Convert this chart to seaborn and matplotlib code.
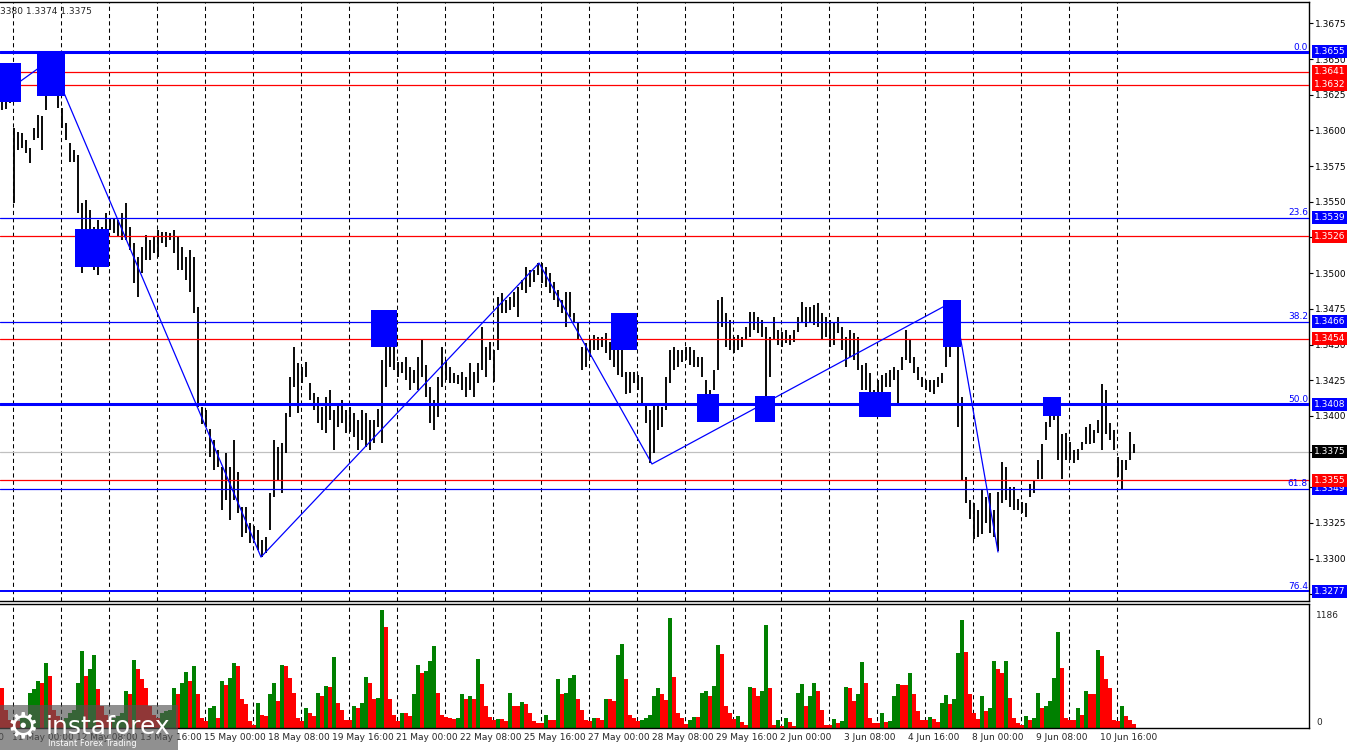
import matplotlib
matplotlib.use("Agg")
import matplotlib.pyplot as plt
import matplotlib.transforms as mtransforms
from matplotlib.patches import Rectangle
import numpy as np
import seaborn as sns

# price = BASE + pts / 10000, one bar every 4 px of the original screen
BASE = 1.3

high_pts = [630, 629, 634, 602, 599, 598, 593, 588, 602, 611, 610, 640, 649, 644, 626, 616, 605, 591, 586, 583,
            549, 551, 544, 532, 537, 532, 542, 539, 539, 537, 542, 549, 532, 521, 511, 518, 527, 523, 525, 530,
            529, 529, 528, 530, 525, 518, 511,
            516, 511, 476, 406, 404, 391, 383, 376, 364, 374, 364, 383, 361, 336, 336, 325, 323, 320, 313, 315,
            346, 383, 378, 381, 402, 427, 448, 437, 434, 438, 423, 416, 413, 406, 413, 418, 404, 409, 411, 404,
            406, 402, 397, 404, 402, 397, 397, 405, 439, 462, 453, 451, 438, 438, 441, 434, 432, 441, 453, 436,
            420, 411, 427, 448, 439, 434, 430, 429, 431, 427, 437, 431, 437, 462, 448, 452, 446, 483, 486, 481,
            483, 487, 490, 495, 504, 502, 502, 507, 507, 504, 500, 494, 488, 481, 487, 487, 472, 466, 448, 451,
            453, 457, 455, 455, 458, 452, 451, 446, 455, 431, 431, 431, 429, 427, 408, 404, 408, 409, 406, 427,
            446, 448, 446, 446, 448, 448, 446, 441, 441, 425, 418, 432, 481, 483, 472, 467, 455, 457, 455, 462,
            473, 473, 469, 467, 462, 455, 469, 460, 459, 460, 457, 460, 469, 480, 476, 476, 478, 479,
            472, 469, 467, 466, 469, 462, 455, 460, 458, 455, 436, 437, 430, 418, 425, 429, 430, 432, 434, 432,
            441, 460, 453, 441, 434, 427, 425, 425, 425, 427, 430, 448, 467, 480, 465, 413, 357, 341, 339, 334,
            348, 343, 346, 334, 347,
            368, 364, 350, 350, 342, 340, 339, 352, 355, 369, 380, 396, 405, 405, 402, 387, 388, 382, 376, 377,
            382, 392, 394, 390, 397, 422, 418, 395, 390, 371, 369, 369, 389, 380]

low_pts = [614, 615, 619, 549, 586, 588, 584, 577, 593, 595, 586, 614, 633, 628, 616, 602, 593, 578, 578, 542,
           500, 511, 507, 502, 499, 511, 525, 530, 528, 525, 523, 523, 516, 493, 483, 500, 509, 509, 514, 511,
           521, 518, 523, 514, 502, 502, 495,
           487, 472, 406, 394, 392, 371, 362, 364, 334, 341, 327, 341, 332, 315, 318, 311, 313, 306, 301, 304,
           320, 343, 355, 346, 374, 399, 420, 402, 423, 427, 411, 404, 395, 390, 388, 397, 376, 392, 395, 388,
           389, 385, 376, 383, 378, 376, 381, 392, 381, 420, 434, 432, 427, 430, 425, 418, 423, 418, 427, 413,
           395, 390, 399, 420, 425, 423, 423, 422, 418, 413, 418, 413, 423, 432, 427, 439, 424, 446, 472, 472,
           474, 476, 469, 488, 486, 490, 494, 499, 493, 490, 486, 481, 476, 472, 462, 469, 465, 453, 432, 434,
           441, 446, 446, 448, 444, 439, 434, 429, 427, 415, 416, 423, 418, 408, 395, 367, 374, 390, 392, 404,
           423, 432, 434, 438, 439, 436, 434, 434, 427, 408, 408, 418, 432, 462, 448, 446, 444, 446, 448, 453,
           455, 460, 458, 455, 404, 427, 453, 450, 448, 451, 450, 452, 459, 466, 462, 466, 464, 462,
           453, 455, 448, 450, 458, 446, 434, 441, 439, 432, 418, 418, 413, 411, 413, 416, 420, 420, 425, 409,
           432, 439, 437, 430, 425, 420, 418, 417, 415, 420, 423, 434, 441, 453, 392, 355, 339, 328, 314, 315,
           317, 325, 318, 315, 305,
           339, 341, 336, 334, 334, 332, 329, 343, 346, 356, 356, 383, 392, 397, 369, 356, 369, 369, 367, 369,
           376, 380, 380, 381, 388, 376, 387, 383, 376, 357, 349, 362, 369, 374]

volume = [400, 186, 85, 85, 68, 101, 118, 355, 395, 473, 456, 652, 524, 186, 118, 85, 101, 152, 186, 456,
          777, 524, 598, 733, 389, 220, 135, 85, 101, 118, 152, 372, 338, 683, 592, 490, 406, 220, 135, 101,
          152, 169, 186, 406, 338, 456, 564,
          473, 625, 338, 101, 68, 203, 220, 101, 473, 429, 507, 652, 625, 287, 237, 68, 34, 254, 135, 118,
          338, 456, 270, 632, 625, 507, 355, 101, 68, 203, 152, 118, 355, 321, 423, 416, 710, 254, 186, 85,
          85, 226, 203, 254, 517, 456, 287, 304, 1183, 1014, 287, 135, 68, 152, 152, 118, 338, 632, 558, 575,
          676, 821, 355, 135, 112, 101, 91, 101, 338, 287, 321, 287, 693, 439, 220, 112, 85, 91, 91, 68,
          355, 220, 220, 260, 237, 152, 68, 51, 51, 135, 85, 85, 490, 338, 355, 507, 531, 294, 186, 85,
          68, 101, 101, 85, 294, 287, 270, 733, 845, 490, 135, 101, 68, 85, 101, 135, 321, 399, 338, 281,
          1105, 514, 152, 101, 44, 85, 112, 112, 348, 372, 321, 423, 835, 744, 220, 152, 91, 125, 57, 34,
          416, 406, 321, 372, 1038, 406, 34, 85, 17, 101, 57, 24, 355, 439, 226, 321, 456, 372,
          186, 34, 34, 91, 51, 68, 416, 406, 270, 338, 659, 456, 101, 51, 51, 152, 57, 68, 321, 439,
          429, 429, 558, 338, 169, 85, 78, 112, 91, 57, 254, 331, 237, 294, 754, 1082, 760, 338, 152, 91,
          321, 169, 203, 676, 592,
          558, 676, 304, 101, 51, 34, 118, 85, 101, 348, 203, 220, 270, 507, 963, 608, 101, 85, 85, 203,
          135, 372, 338, 338, 788, 727, 490, 406, 85, 68, 220, 118, 78, 44]

time_labels = ["8 May 16:00", "11 May 00:00", "12 May 08:00", "13 May 16:00", "15 May 00:00", "18 May 08:00",
               "19 May 16:00", "21 May 00:00", "22 May 08:00", "25 May 16:00", "27 May 00:00", "28 May 08:00",
               "29 May 16:00", "2 Jun 00:00", "3 Jun 08:00", "4 Jun 16:00", "8 Jun 00:00", "9 Jun 08:00",
               "10 Jun 16:00"]

# horizontal levels
red_levels = [1.3641, 1.3632, 1.3526, 1.3454, 1.3355]
fibo_levels = [1.3655, 1.3539, 1.3466, 1.3408, 1.3349, 1.3277]
fibo_names = ["0.0", "23.6", "38.2", "50.0", "61.8", "76.4"]
bid_price = 1.3375

# zigzag vertices (bar index, price)
zz_bar = [-0.5, 12, 64.75, 134.25, 162.5, 238, 249]
zz_price = [1.36242, 1.36494, 1.33011, 1.35071, 1.33663, 1.34805, 1.33046]

# blue boxes (bar from, bar to, price top, price bottom)
box_bar0 = [-0.5, 8.75, 18.25, 92.25, 152.25, 173.75, 188.25, 214.25, 235.25, 260.25]
box_bar1 = [4.75, 15.75, 26.75, 98.75, 158.75, 179.25, 193.25, 222.25, 239.75, 264.75]
box_top = [1.3647, 1.3654, 1.3531, 1.3474, 1.3472, 1.3415, 1.3414, 1.3417, 1.3481, 1.3413]
box_bot = [1.3620, 1.3624, 1.3504, 1.3448, 1.3446, 1.3396, 1.3396, 1.3399, 1.3448, 1.3400]

highs = BASE + np.array(high_pts) / 10000
lows = BASE + np.array(low_pts) / 10000
bars = np.arange(len(highs))

sns.set_style("white")
plt.rcParams['font.family'] = ['DejaVu Sans']

W, H = 1350, 750
fig = plt.figure(figsize=(W / 100, H / 100), dpi=100)
fig.patch.set_facecolor('white')

PLOT_R = 1309
ax = fig.add_axes([0, (H - 601) / H, PLOT_R / W, 599 / H])
axv = fig.add_axes([0, (H - 728) / H, PLOT_R / W, 124 / H])

x_right = (PLOT_R - 2) / 4
for a in (ax, axv):
    a.set_xlim(-0.5, x_right)
    a.set_facecolor('white')
    for s in ['top', 'right', 'bottom']:
        a.spines[s].set_color('black')
        a.spines[s].set_linewidth(1.0)
    a.spines['left'].set_visible(False)
    a.set_xticks([])
    for g in np.arange(2.83, 290, 12):
        a.axvline(g, color='black', lw=0.75, ls=(0, (4, 3)), zorder=0.5)

ax.set_ylim(1.32703, 1.36900)
ticks = np.arange(1.3275, 1.3690, 0.0025)
ax.set_yticks(ticks)
ax.yaxis.set_major_formatter(matplotlib.ticker.FormatStrFormatter('%.4f'))
ax.tick_params(axis='y', left=False, right=True, labelleft=False, labelright=True,
               length=3, width=0.8, pad=1.5, labelsize=6.5, colors='black')

# price bars
ax.vlines(bars, lows, highs, color='black', lw=1.35, zorder=2)

# levels
for p in red_levels:
    ax.axhline(p, color='#FF0000', lw=0.9, zorder=3)
for p, n in zip(fibo_levels, fibo_names):
    lw = 2.2 if p in (1.3655, 1.3408) else (1.4 if p == 1.3277 else 0.9)
    ax.axhline(p, color='#0000FF', lw=lw, zorder=3)
    ax.text((PLOT_R - 3) / 4, p + 0.00003, n, color='#0000FF', fontsize=6.5,
            ha='right', va='bottom', zorder=6)
ax.axhline(bid_price, color='#C0C0C0', lw=0.9, zorder=1)

# zigzag
sns.lineplot(x=zz_bar, y=zz_price, ax=ax, color='#0000FF', lw=0.9, sort=False,
             estimator=None, zorder=4)

# boxes
for b0, b1, t, bt in zip(box_bar0, box_bar1, box_top, box_bot):
    ax.add_patch(Rectangle((b0, bt), b1 - b0, t - bt, facecolor='#0000FF',
                           edgecolor='none', zorder=5))

# value boxes on the price scale
trans = mtransforms.blended_transform_factory(fig.transFigure, ax.transData)
for p, c in [(p, '#0000FF') for p in fibo_levels] + [(p, '#FF0000') for p in red_levels] + [(bid_price, 'black')]:
    ax.text(1313.5 / W, p, f'{p:.4f}', transform=trans, fontsize=6.5, color='white',
            ha='left', va='center', clip_on=False, zorder=7,
            bbox=dict(boxstyle='square,pad=0.22', fc=c, ec='none'))

# volumes, green when higher than the previous bar
vol = np.array(volume)
vcol = ['#008000' if i > 0 and vol[i] > vol[i - 1] else '#FF0000' for i in range(len(vol))]
axv.bar(bars, vol, width=0.85, color=vcol, linewidth=0, zorder=2)
axv.set_ylim(0, 1247)
axv.set_yticks([])
tv = mtransforms.blended_transform_factory(fig.transFigure, axv.transData)
axv.text(1316 / W, 1130, '1186', transform=tv, fontsize=6.5, ha='left', va='center', clip_on=False)
axv.text(1316 / W, 55, '0', transform=tv, fontsize=6.5, ha='left', va='center', clip_on=False)

# time labels
tl = mtransforms.blended_transform_factory(axv.transData, fig.transFigure)
for k, lab in enumerate(time_labels):
    axv.text(-13.5 + 16 * k, 1 - 738 / H, lab, transform=tl, fontsize=6.5,
             ha='left', va='center', clip_on=False)

# header
fig.text(0, 1 - 11 / H, '3380 1.3374 1.3375', fontsize=6.5, ha='left', va='center')

# watermark
fig.patches.append(Rectangle((0, 0), 178 / W, 45 / H, transform=fig.transFigure,
                             facecolor='#555555', alpha=0.65, edgecolor='none', zorder=10))
fig.text(23 / W, 1 - 727 / H, '\u2699', fontsize=26, color='white', ha='center', va='center', zorder=11)
fig.text(46 / W, 1 - 727 / H, 'instaforex', fontsize=18, color='white', ha='left', va='center', zorder=11)
fig.text(48 / W, 1 - 743 / H, 'Instant Forex Trading', fontsize=6, color='white', ha='left', va='center', zorder=11)

fig.savefig('out.png', dpi=100, facecolor='white')
